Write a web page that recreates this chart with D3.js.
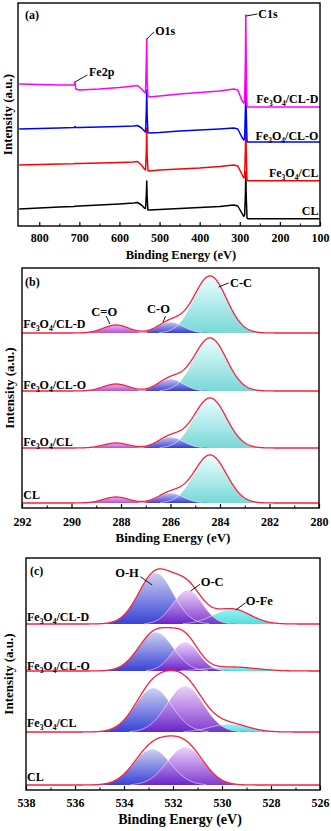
<!DOCTYPE html>
<html>
<head>
<meta charset="utf-8">
<script src="https://cdn.jsdelivr.net/npm/d3@7"></script>
<style>
  body { margin: 0; background: #fff; }
  svg { display: block; }
</style>
</head>
<body>
<svg id="chart" width="331" height="831"></svg>
<script>
// ---------- (a) survey spectra ----------
const surveyEnergy = [850, 800, 750, 713, 711, 709, 700, 650, 600, 565, 555, 545, 538, 535, 533, 532, 531, 529, 526, 500, 450, 400, 350, 315, 305, 295, 290, 288, 286, 285, 284, 282, 280, 250, 200, 150, 100];
const surveyCLD = [142, 141.5, 141, 141, 144, 137, 136, 137, 138.5, 140, 140.5, 137, 134, 133, 166, 187, 146, 130, 129, 130, 132, 133.5, 135, 137, 136, 126, 123, 124, 166, 211, 166, 120, 119, 119, 119, 119, 119];
const surveyCLO = [97, 97.5, 98, 98.5, 99.5, 98.5, 98.5, 99, 99.5, 100, 100.5, 98, 95, 94, 116, 136, 111, 93.5, 93, 93.5, 95, 96, 97, 98, 97, 89, 86, 87, 116, 148, 116, 85, 84, 84, 84, 84, 84];
const surveyFeCL = [61, 61.5, 62, 62.3, 62.5, 62.5, 62.5, 63, 63.5, 64, 64.5, 61, 57, 56, 76, 98, 71, 55.5, 55, 56, 57, 58, 59.5, 61, 60, 52, 48, 49, 76, 111, 76, 46, 45.3, 45.3, 45.3, 45.3, 45.3];
const surveyCL = [17, 18, 19, 19.5, 19.7, 19.8, 20, 21, 22, 23, 23.5, 21, 18, 17.5, 31, 45, 29, 16, 16, 16.5, 17.5, 18.5, 19.5, 21, 20, 13, 9.5, 11, 31, 54, 31, 8, 7.3, 7.3, 7.3, 7.3, 7.3];
const surveyNames = ["CL", "Fe3O4/CL", "Fe3O4/CL-O", "Fe3O4/CL-D"];
const surveyTicks = [800, 700, 600, 500, 400, 300, 200, 100];

// ---------- (b) C1s fits ----------
const fitSamples = ["Fe3O4/CL-D", "Fe3O4/CL-O", "Fe3O4/CL", "CL"];
const c1sOffset = [175, 117, 60, 5];
const c1sNames = ["C-C", "C-O", "C=O"];
const c1sCenter = [284.4, 286.0, 288.2];
const c1sFwhm = [1.55, 1.2, 1.2];
const c1sHeightCC = [57, 53, 50, 48];
const c1sHeightCO = [11, 12, 11, 10];
const c1sHeightCdO = [8, 7, 5, 6];
const c1sTicks = [292, 290, 288, 286, 284, 282, 280];

// ---------- (c) O1s fits ----------
const o1sOffset = [166, 119, 58, 5];
const o1sNames = ["O-H", "O-C", "O-Fe"];
const o1sCenterOH = [532.7, 532.7, 532.8, 532.85];
const o1sCenterOC = [531.4, 531.5, 531.5, 531.5];
const o1sCenterOFe = [529.6, 529.6, 529.7, 529.7];
const o1sFwhmOH = [1.65, 1.65, 1.75, 1.75];
const o1sFwhmOC = [1.4, 1.3, 1.75, 1.75];
const o1sFwhmOFe = [1.75, 2.3, 1.8, 1.8];
const o1sHeightOH = [51, 39, 44, 36];
const o1sHeightOC = [34, 29, 46, 38];
const o1sHeightOFe = [15, 4, 8, 0];
const o1sTicks = [538, 536, 534, 532, 530, 528, 526];

const FONT = "'Liberation Serif', 'Times New Roman', serif";
const svg = d3.select("#chart");
const defs = svg.append("defs");

const fills = {
  CC: ["#e8ffff", "#66d2d2"],
  CO: ["#bcbcf4", "#2a2ad0"],
  CdO: ["#f2a6f2", "#a040c8"],
  OH: ["#c8cbee", "#1c28d0"],
  OC: ["#ecccfa", "#7020c8"],
  OFe: ["#90f2f2", "#38d8d8"]
};
Object.entries(fills).forEach(([k, c]) => {
  const lg = defs.append("linearGradient").attr("id", "g-" + k)
    .attr("x1", 0).attr("y1", 0).attr("x2", 0).attr("y2", 1);
  lg.append("stop").attr("offset", "0%").attr("stop-color", c[0]);
  lg.append("stop").attr("offset", "100%").attr("stop-color", c[1]);
});

// sample name with sub-scripts (digits are lowered)
function sampleText(g, name, x, y, anchor, size) {
  const t = g.append("text")
    .attr("x", x).attr("y", y).attr("dy", "0.35em")
    .attr("text-anchor", anchor)
    .attr("font-family", FONT).attr("font-weight", "bold")
    .attr("font-size", size);
  let lowered = false;
  name.split(/(\d)/).filter(p => p !== "").forEach(p => {
    const isSub = /\d/.test(p);
    const ts = t.append("tspan").text(p);
    if (isSub) {
      ts.attr("font-size", size * 0.62).attr("dy", lowered ? 0 : 3);
      lowered = true;
    } else if (lowered) {
      ts.attr("dy", -3);
      lowered = false;
    }
  });
  return t;
}

function plainText(g, txt, x, y, anchor, size) {
  return g.append("text")
    .attr("x", x).attr("y", y).attr("dy", "0.35em")
    .attr("text-anchor", anchor)
    .attr("font-family", FONT).attr("font-weight", "bold")
    .attr("font-size", size)
    .text(txt);
}

function leader(g, x1, y1, x2, y2) {
  g.append("line").attr("x1", x1).attr("y1", y1).attr("x2", x2).attr("y2", y2)
    .attr("stroke", "#000").attr("stroke-width", 0.9);
}

function frameAndAxis(g, box, x, major, minor, pad, titleX, titleSize, yTitleX) {
  const minorAxis = d3.axisBottom(x).tickValues(minor).tickFormat("")
    .tickSizeInner(-2.5).tickSizeOuter(0);
  const majorAxis = d3.axisBottom(x).tickValues(major).tickFormat(d3.format("d"))
    .tickSizeInner(-4).tickSizeOuter(0).tickPadding(pad);
  g.append("g").attr("transform", `translate(0,${box.bottom})`).call(minorAxis)
    .call(a => a.select(".domain").remove());
  const ax = g.append("g").attr("transform", `translate(0,${box.bottom})`).call(majorAxis);
  ax.select(".domain").remove();
  ax.attr("font-family", FONT).attr("font-size", 12).attr("font-weight", "bold");
  ax.selectAll(".tick line").attr("stroke-width", 1.2);
  g.append("rect")
    .attr("x", box.left).attr("y", box.top)
    .attr("width", box.right - box.left).attr("height", box.bottom - box.top)
    .attr("fill", "none").attr("stroke", "#000").attr("stroke-width", 1.4);
  plainText(g, "Binding Energy (eV)", titleX, box.bottom + 29, "middle", titleSize);
  const cy = (box.top + box.bottom) / 2;
  plainText(g, "Intensity (a.u.)", 0, 0, "middle", 13)
    .attr("transform", `translate(${yTitleX},${cy}) rotate(-90)`);
}

// ================= panel (a) =================
{
  const box = { left: 18, right: 320, top: 3, bottom: 226 };
  const x = d3.scaleLinear().domain([850, 100]).range([box.left + 1.2, box.right]);
  const y = d3.scaleLinear().domain([0, 223]).range([box.bottom, box.top]);
  const g = svg.append("g");
  const series = [
    { vals: surveyCL, color: "#000000" },
    { vals: surveyFeCL, color: "#ff0000" },
    { vals: surveyCLO, color: "#0000ff" },
    { vals: surveyCLD, color: "#ff00ff" }
  ];
  const line = d3.line().x(d => x(d[0])).y(d => y(d[1]));
  series.forEach(s => {
    g.append("path")
      .datum(surveyEnergy.map((e, i) => [e, s.vals[i]]))
      .attr("d", line).attr("fill", "none")
      .attr("stroke", s.color).attr("stroke-width", 1.5)
      .attr("stroke-linejoin", "round");
  });
  frameAndAxis(g, box, x, surveyTicks, d3.range(150, 850, 100), 7.6, 181, 12.5, 7);

  plainText(g, "(a)", 25, 15, "start", 12);
  // peak annotations
  leader(g, x(532), y(187), x(514), y(194));
  plainText(g, "O1s", x(511), y(195), "start", 12);
  leader(g, x(284.5), y(210), x(256), y(212));
  plainText(g, "C1s", x(254), y(212), "start", 12);
  leader(g, x(711), y(144), x(680), y(151));
  plainText(g, "Fe2p", x(676), y(154), "start", 12);
  // sample labels
  const labelI = [15, 53, 90, 127];
  surveyNames.forEach((n, i) => sampleText(g, n, x(104), y(labelI[i]), "end", 12));
}

// ---------- generic fitted panel ----------
function gauss(e, c, fwhm, h) {
  return h * Math.exp(-4 * Math.LN2 * (e - c) * (e - c) / (fwhm * fwhm));
}

function drawFits(g, x, y, grid, base, comps) {
  comps.forEach(c => {
    if (c.h <= 0) return;
    const pts = grid.map(e => [e, gauss(e, c.c, c.w, c.h)]).filter(p => p[1] > 0.15);
    const area = d3.area().x(d => x(d[0])).y0(y(base)).y1(d => y(base + d[1]));
    g.append("path").datum(pts).attr("d", area)
      .attr("fill", `url(#g-${c.key})`).attr("fill-opacity", 0.88);
  });
  comps.forEach(c => {
    if (c.h <= 0) return;
    const pts = grid.map(e => [e, gauss(e, c.c, c.w, c.h)]).filter(p => p[1] > 0.4);
    g.append("path").datum(pts)
      .attr("d", d3.line().x(d => x(d[0])).y(d => y(base + d[1])))
      .attr("fill", "none").attr("stroke", "#ffffff").attr("stroke-opacity", 0.75)
      .attr("stroke-width", 0.8);
  });
  const env = grid.map(e => [e, d3.sum(comps, c => gauss(e, c.c, c.w, c.h))]);
  g.append("path").datum(env)
    .attr("d", d3.line().x(d => x(d[0])).y(d => y(base + d[1])))
    .attr("fill", "none").attr("stroke", "#ff1e3c").attr("stroke-width", 1.3);
}

// ================= panel (b) =================
{
  const box = { left: 22, right: 319, top: 268, bottom: 508 };
  const x = d3.scaleLinear().domain([292, 280]).range([box.left, box.right]);
  const y = d3.scaleLinear().domain([0, 240]).range([box.bottom, box.top]);
  const g = svg.append("g");
  const grid = d3.range(292, 279.99, -0.02);
  fitSamples.forEach((s, i) => {
    drawFits(g, x, y, grid, c1sOffset[i], [
      { key: "CC", c: c1sCenter[0], w: c1sFwhm[0], h: c1sHeightCC[i] },
      { key: "CO", c: c1sCenter[1], w: c1sFwhm[1], h: c1sHeightCO[i] },
      { key: "CdO", c: c1sCenter[2], w: c1sFwhm[2], h: c1sHeightCdO[i] }
    ]);
  });
  frameAndAxis(g, box, x, c1sTicks, d3.range(291, 280, -2), 9.6, 173, 13, 9);

  plainText(g, "(b)", 25, 282, "start", 12);
  leader(g, x(284.06), y(221), x(283.65), y(225));
  plainText(g, c1sNames[0], x(283.6), y(225), "start", 12.5);
  leader(g, x(286.3), y(186), x(286.2), y(192));
  plainText(g, c1sNames[1], x(286.95), y(199), "start", 12.5);
  leader(g, x(288.6), y(192), x(288.45), y(184));
  plainText(g, c1sNames[2], x(289.2), y(196), "start", 12.5);
  const labelI = [184, 123, 66, 13];
  fitSamples.forEach((n, i) => sampleText(g, n, x(291.95), y(labelI[i]), "start", 12));
}

// ================= panel (c) =================
{
  const box = { left: 26, right: 320, top: 558, bottom: 790 };
  const x = d3.scaleLinear().domain([538, 526]).range([box.left, box.right]);
  const y = d3.scaleLinear().domain([0, 232]).range([box.bottom, box.top]);
  const g = svg.append("g");
  const grid = d3.range(538, 525.99, -0.02);
  fitSamples.forEach((s, i) => {
    drawFits(g, x, y, grid, o1sOffset[i], [
      { key: "OFe", c: o1sCenterOFe[i], w: o1sFwhmOFe[i], h: o1sHeightOFe[i] },
      { key: "OH", c: o1sCenterOH[i], w: o1sFwhmOH[i], h: o1sHeightOH[i] },
      { key: "OC", c: o1sCenterOC[i], w: o1sFwhmOC[i], h: o1sHeightOC[i] }
    ]);
  });
  frameAndAxis(g, box, x, o1sTicks, d3.range(537, 526, -2), 8.6, 180, 14, 8);

  plainText(g, "(c)", 30, 571, "start", 12);
  leader(g, x(532.85), y(205), x(533.33), y(213.3));
  plainText(g, o1sNames[0], x(534.36), y(217), "start", 12.5);
  leader(g, x(531.28), y(199), x(530.9), y(205.7));
  plainText(g, o1sNames[1], x(530.87), y(208), "start", 12.5);
  leader(g, x(529.44), y(180), x(529.03), y(187.3));
  plainText(g, o1sNames[2], x(529.03), y(189.3), "start", 12.5);
  const labelI = [173, 124, 67, 13];
  fitSamples.forEach((n, i) => sampleText(g, n, x(537.96), y(labelI[i]), "start", 12));
}
</script>
</body>
</html>
